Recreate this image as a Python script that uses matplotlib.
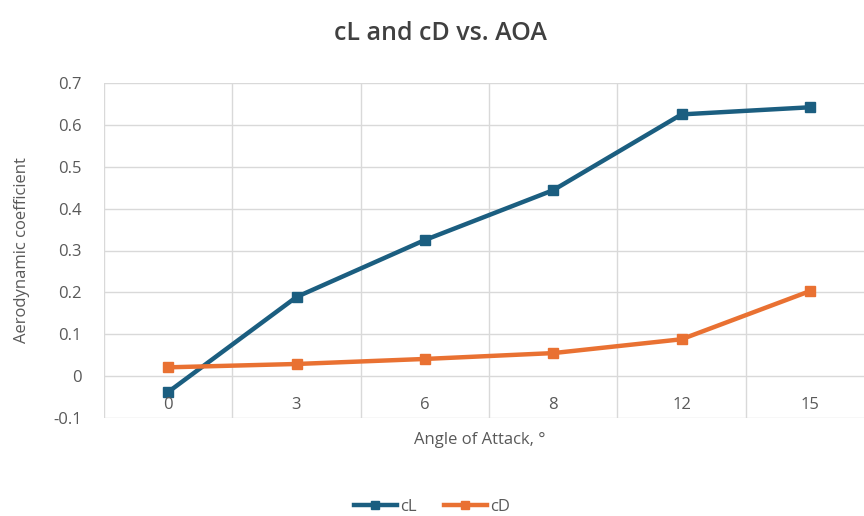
import matplotlib
matplotlib.use('Agg')
import matplotlib.pyplot as plt
import numpy as np

# 받음각 카테고리와 계수 값
aoa_labels = ['0', '3', '6', '8', '12', '15']
cl_values = [-0.038, 0.189, 0.325, 0.444, 0.625, 0.642]
cd_values = [0.021, 0.029, 0.041, 0.055, 0.088, 0.203]
y_ticks = [-0.1, 0, 0.1, 0.2, 0.3, 0.4, 0.5, 0.6, 0.7]

plt.rcParams['font.family'] = ['Open Sans', 'DejaVu Sans']
grey = '#595959'
grid_c = '#D9D9D9'

fig = plt.figure(figsize=(8.64, 5.16), dpi=100)
# 엑셀 차트처럼 오른쪽 끝이 살짝 잘려 있음
ax = fig.add_axes([104 / 864, 1 - 418 / 516, 770 / 864, 335 / 516])

x = np.arange(len(aoa_labels))
ax.plot(x, cl_values, color='#1B5E80', lw=3.2, marker='s', ms=7, label='cL', zorder=3)
ax.plot(x, cd_values, color='#E97132', lw=3.2, marker='s', ms=7, label='cD', zorder=3)

ax.set_xlim(-0.5, len(aoa_labels) - 0.5)
ax.set_ylim(-0.1, 0.7)
ax.set_yticks(y_ticks)
ax.set_yticklabels(['-0.1', '0', '0.1', '0.2', '0.3', '0.4', '0.5', '0.6', '0.7'])
ax.set_xticks(np.arange(-0.5, len(aoa_labels)))
ax.set_xticklabels([])
ax.grid(True, color=grid_c, lw=1)
ax.tick_params(length=0, labelsize=12, colors=grey, pad=16)
for s in ax.spines.values():
    s.set_visible(False)

# x축 라벨은 y=0 바로 아래에 표시
for i, lab in enumerate(aoa_labels):
    ax.annotate(lab, (i, 0), xytext=(0, -21), textcoords='offset points',
                ha='center', va='center', fontsize=12, color=grey)

fig.text(480 / 864, 1 - 440 / 516, 'Angle of Attack, °', ha='center', va='center',
         fontsize=12, color=grey)
fig.text(22 / 864, 1 - 250 / 516, 'Aerodynamic coefficient', ha='center', va='center',
         rotation=90, fontsize=12, color=grey)
fig.text(440 / 864, 1 - 33 / 516, 'cL and cD vs. AOA', ha='center', va='center',
         fontsize=18, color='#404040', fontweight='semibold')

fig.legend(loc='center', bbox_to_anchor=(432 / 864, 1 - 507 / 516), ncol=2, frameon=False,
           fontsize=12, labelcolor=grey, handlelength=2.6, columnspacing=1.6,
           handletextpad=0.2, markerscale=0.85)

fig.savefig('out.png', dpi=100)
